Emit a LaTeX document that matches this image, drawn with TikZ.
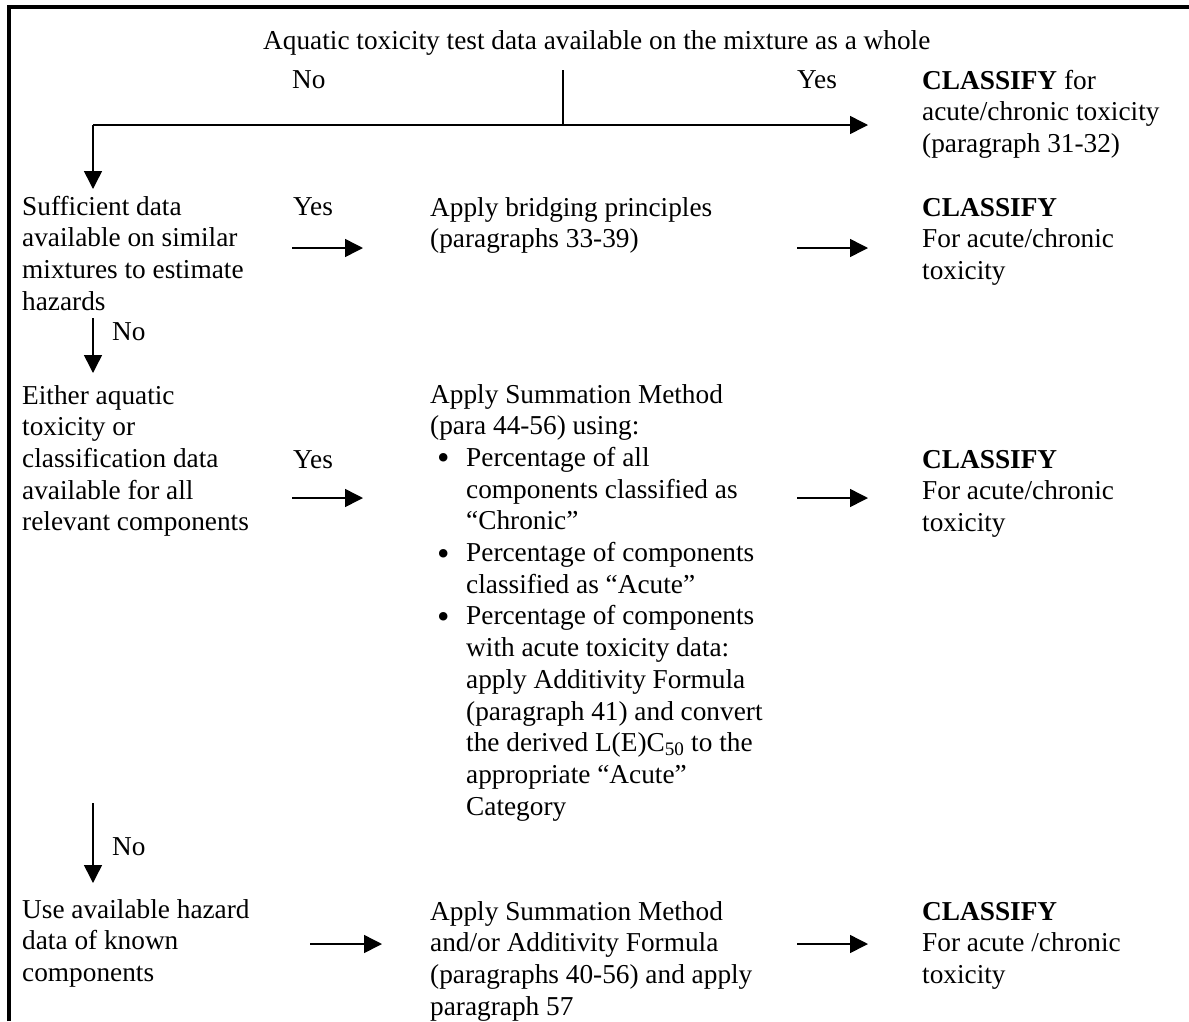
\documentclass[tikz,border=0pt]{standalone}
\usepackage{fontspec}
\setmainfont{Liberation Serif}
\usetikzlibrary{arrows.meta}
\newcommand{\bul}{\makebox[36pt][l]{\hspace*{7pt}\raisebox{-3.5pt}{\scalebox{1.3}{\textbullet}}}}
\newcommand{\ind}{\hspace*{36pt}}
\begin{document}
\begin{tikzpicture}[x=1pt,y=-1pt,
  % base west of a multi-line node is the baseline of its LAST line
  txt/.style={anchor=base west, inner sep=0pt, align=left, font=\fontsize{27.3}{31.7}\selectfont},
  ln/.style={line width=1.5pt},
  arr/.style={line width=1.5pt, -{Triangle[length=18pt,width=18pt]}},
  frame/.style={line width=4pt}]
\useasboundingbox (0,0) rectangle (1189,1021);
% page frame (top and left edges)
\draw[frame] (9,1021) -- (9,7) -- (1189,7);
% top question
\node[txt] (q) at (263,49) {Aquatic toxicity test data available on the mixture as a whole};
\node[txt] (no0) at (292,88) {No};
\node[txt] (yes0) at (797,88) {Yes};
\node[txt] (c0) at (922,{89+2*31.7}) {\textbf{CLASSIFY} for\\acute/chronic toxicity\\(paragraph 31-32)};
\coordinate (qb) at (563,70);
\coordinate (split) at (563,125);
\coordinate (lt) at (93,125);
\coordinate (rt) at (868,125);
\coordinate (d0) at (93,189);
\draw[ln] (qb) -- (split);
\draw[arr] (lt) -- (rt);
\draw[arr] (lt) -- (d0);
% row 1
\node[txt] (s1) at (22,{215+3*31.7}) {Sufficient data\\available on similar\\mixtures to estimate\\hazards};
\node[txt] (y1) at (293,215) {Yes};
\node[txt] (b1) at (430,{216+31.7}) {Apply bridging principles\\(paragraphs 33-39)};
\node[txt] (c1) at (922,{216+2*31.7}) {\textbf{CLASSIFY}\\For acute/chronic\\toxicity};
\coordinate (a1s) at (292,248); \coordinate (a1e) at (363,248);
\coordinate (a2s) at (797,248); \coordinate (a2e) at (868,248);
\draw[arr] (a1s) -- (a1e);
\draw[arr] (a2s) -- (a2e);
\node[txt] (n1) at (112,340) {No};
\coordinate (d1s) at (93,318); \coordinate (d1e) at (93,373);
\draw[arr] (d1s) -- (d1e);
% row 2
\node[txt] (s2) at (22,{404+4*31.7}) {Either aquatic\\toxicity or\\classification data\\available for all\\relevant components};
\node[txt] (y2) at (293,468) {Yes};
\node[txt] (m2) at (430,{403+13*31.7}) {Apply Summation Method\\(para 44-56) using:\\
\bul Percentage of all\\
\ind components classified as\\
\ind “Chronic”\\
\bul Percentage of components\\
\ind classified as “Acute”\\
\bul Percentage of components\\
\ind with acute toxicity data:\\
\ind apply Additivity Formula\\
\ind (paragraph 41) and convert\\
\ind the derived L(E)C\textsubscript{50} to the\\
\ind appropriate “Acute”\\
\ind Category};
\node[txt] (c2) at (922,{468+2*31.7}) {\textbf{CLASSIFY}\\For acute/chronic\\toxicity};
\coordinate (b1s) at (292,498); \coordinate (b1e) at (363,498);
\coordinate (b2s) at (797,498); \coordinate (b2e) at (868,498);
\draw[arr] (b1s) -- (b1e);
\draw[arr] (b2s) -- (b2e);
\node[txt] (n2) at (112,855) {No};
\coordinate (d2s) at (93,803); \coordinate (d2e) at (93,883);
\draw[arr] (d2s) -- (d2e);
% row 3
\node[txt] (s3) at (22,{918+2*31.7}) {Use available hazard\\data of known\\components};
\node[txt] (m3) at (430,{920+3*31.7}) {Apply Summation Method\\and/or Additivity Formula\\(paragraphs 40-56) and apply\\paragraph 57};
\node[txt] (c3) at (922,{920+2*31.7}) {\textbf{CLASSIFY}\\For acute /chronic\\toxicity};
\coordinate (e1s) at (310,944); \coordinate (e1e) at (382,944);
\coordinate (e2s) at (797,944); \coordinate (e2e) at (868,944);
\draw[arr] (e1s) -- (e1e);
\draw[arr] (e2s) -- (e2e);
\end{tikzpicture}
\end{document}
